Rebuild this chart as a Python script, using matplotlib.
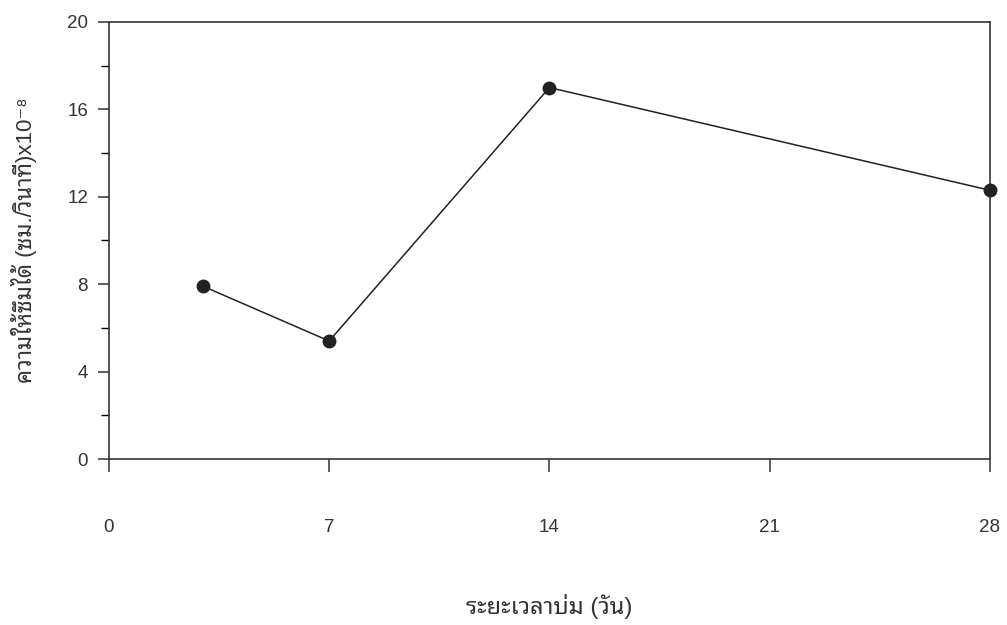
import matplotlib
matplotlib.use("Agg")
import matplotlib.pyplot as plt
from matplotlib.ticker import MultipleLocator

# ข้อมูลจากกราฟ
days = [3, 7, 14, 28]
permeability = [7.9, 5.4, 17.0, 12.3]
x_ticks = [0, 7, 14, 21, 28]
y_ticks = [0, 4, 8, 12, 16, 20]

# ตัวเลขใช้ Liberation Sans, ตัวอักษรไทยไปใช้ Noto Sans Thai Looped
plt.rcParams['font.family'] = ['Liberation Sans', 'Noto Sans Thai Looped', 'DejaVu Sans']

fig = plt.figure(figsize=(10.07, 6.25), dpi=100)
ax = fig.add_axes([0.1082, 0.2656, 0.8748, 0.6992])

ax.plot(days, permeability, color='#222222', linewidth=1.1, marker='o',
        markersize=9, markerfacecolor='#222222', markeredgecolor='#222222',
        clip_on=False, zorder=3)

ax.set_xlim(0, 28)
ax.set_ylim(0, 20)
ax.set_xticks(x_ticks)
ax.set_yticks(y_ticks)
ax.yaxis.set_minor_locator(MultipleLocator(2))

ax.tick_params(axis='x', direction='out', length=9, width=1.1, pad=34,
               labelsize=13.5, colors='#333333')
ax.tick_params(axis='y', which='major', direction='out', length=8, width=1.1,
               pad=7, labelsize=13.5, colors='#333333')
ax.tick_params(axis='y', which='minor', direction='out', length=6, width=1.0)

for s in ax.spines.values():
    s.set_linewidth(1.2)
    s.set_color('#333333')

ax.set_xlabel('ระยะเวลาบ่ม (วัน)', fontsize=17, color='#333333', labelpad=42)
ax.set_ylabel('ความให้ซึมได้ (ซม./วินาที)x10⁻⁸', fontsize=16,
              color='#333333', labelpad=22)

fig.savefig('out.png', dpi=100)
